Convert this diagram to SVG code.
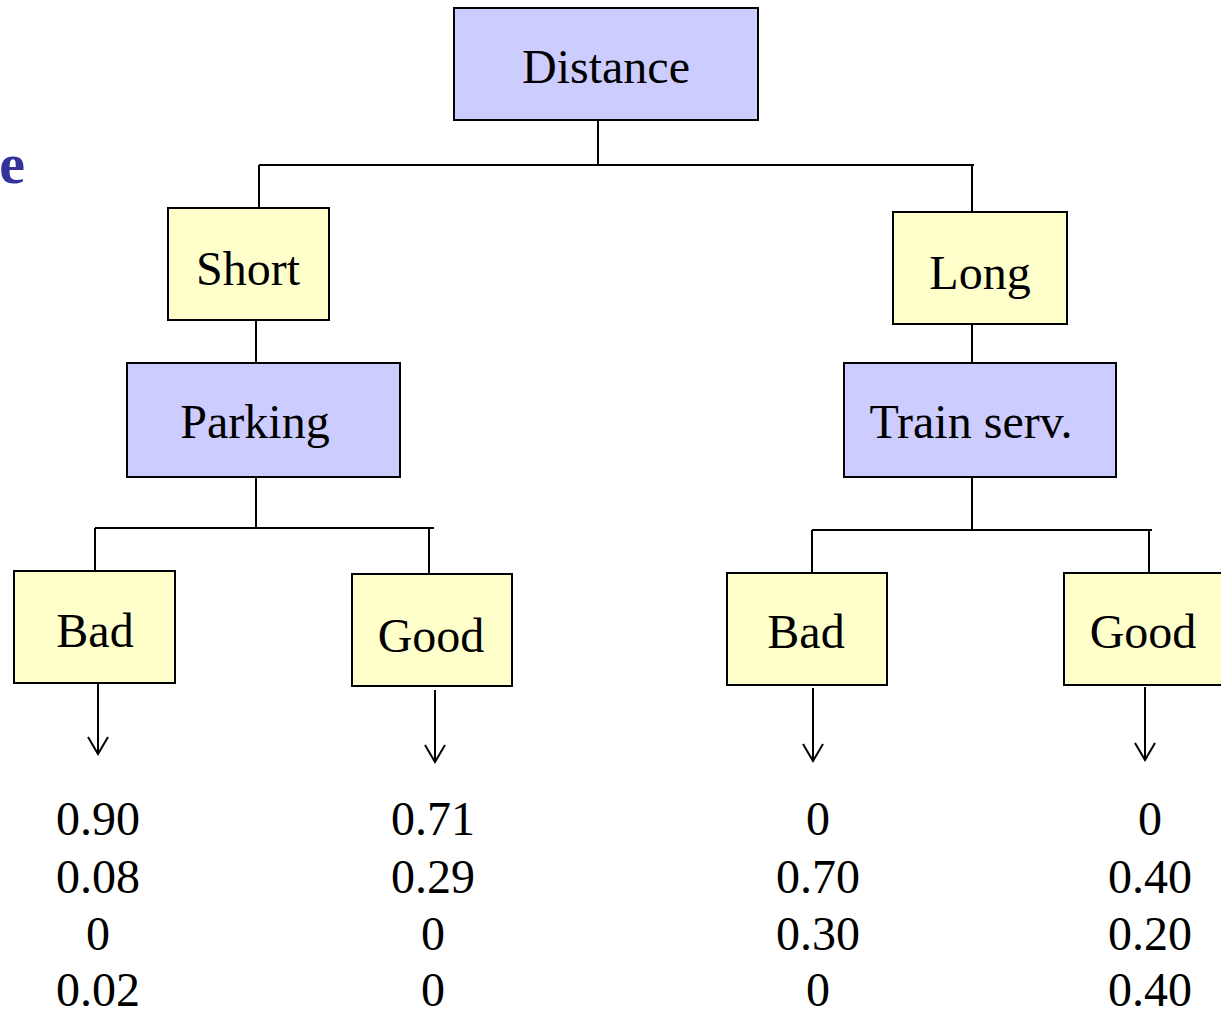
<svg xmlns="http://www.w3.org/2000/svg" width="1221" height="1009" viewBox="0 0 1221 1009">
<style>
.b{fill:#CCCCFF;stroke:#000;stroke-width:2}
.y{fill:#FFFFCC;stroke:#000;stroke-width:2}
text{font-family:"Liberation Serif","Times New Roman",serif;font-size:48px;fill:#000;text-anchor:middle}
.c line{stroke:#000;stroke-width:2}
</style>
<defs>
<marker id="ah" markerWidth="24" markerHeight="24" refX="19" refY="11" orient="auto" markerUnits="userSpaceOnUse" viewBox="0 0 24 24">
<path d="M2,1 L19,11 L2,21" fill="none" stroke="#000" stroke-width="2"/>
</marker>
</defs>
<rect width="1221" height="1009" fill="#fff"/>
<text x="25" y="183" style="font-weight:bold;fill:#333399;font-size:58px;text-anchor:end">e</text>
<g class="c" id="connectors">
<line x1="598" y1="120" x2="598" y2="165"/>
<line x1="259" y1="165" x2="974" y2="165"/>
<line x1="259" y1="165" x2="259" y2="208"/>
<line x1="972" y1="165" x2="972" y2="212"/>
<line x1="256" y1="320" x2="256" y2="363"/>
<line x1="972" y1="324" x2="972" y2="363"/>
<line x1="256" y1="477" x2="256" y2="528"/>
<line x1="95" y1="528" x2="434" y2="528"/>
<line x1="95" y1="528" x2="95" y2="571"/>
<line x1="429" y1="528" x2="429" y2="574"/>
<line x1="972" y1="477" x2="972" y2="530"/>
<line x1="812" y1="530" x2="1152" y2="530"/>
<line x1="812" y1="530" x2="812" y2="573"/>
<line x1="1149" y1="530" x2="1149" y2="573"/>
<line x1="98" y1="683" x2="98" y2="754" marker-end="url(#ah)"/>
<line x1="435" y1="690" x2="435" y2="762" marker-end="url(#ah)"/>
<line x1="813" y1="688" x2="813" y2="761" marker-end="url(#ah)"/>
<line x1="1145" y1="687" x2="1145" y2="760" marker-end="url(#ah)"/>
</g>
<g id="distance"><rect class="b" x="454" y="8" width="304" height="112"/><text x="606" y="83">Distance</text></g>
<g id="short"><rect class="y" x="168" y="208" width="161" height="112"/><text x="248" y="285">Short</text></g>
<g id="long"><rect class="y" x="893" y="212" width="174" height="112"/><text x="980" y="289">Long</text></g>
<g id="parking"><rect class="b" x="127" y="363" width="273" height="114"/><text x="255" y="438">Parking</text></g>
<g id="train"><rect class="b" x="844" y="363" width="272" height="114"/><text x="971" y="438">Train serv.</text></g>
<g id="bad1"><rect class="y" x="14" y="571" width="161" height="112"/><text x="95" y="647">Bad</text></g>
<g id="good1"><rect class="y" x="352" y="574" width="160" height="112"/><text x="431" y="652">Good</text></g>
<g id="bad2"><rect class="y" x="727" y="573" width="160" height="112"/><text x="806" y="648">Bad</text></g>
<g id="good2"><rect class="y" x="1064" y="573" width="170" height="112"/><text x="1143" y="648">Good</text></g>
<g id="values">
<text x="98" y="835">0.90</text><text x="98" y="893">0.08</text><text x="98" y="950">0</text><text x="98" y="1006">0.02</text>
<text x="433" y="835">0.71</text><text x="433" y="893">0.29</text><text x="433" y="950">0</text><text x="433" y="1006">0</text>
<text x="818" y="835">0</text><text x="818" y="893">0.70</text><text x="818" y="950">0.30</text><text x="818" y="1006">0</text>
<text x="1150" y="835">0</text><text x="1150" y="893">0.40</text><text x="1150" y="950">0.20</text><text x="1150" y="1006">0.40</text>
</g>
</svg>
